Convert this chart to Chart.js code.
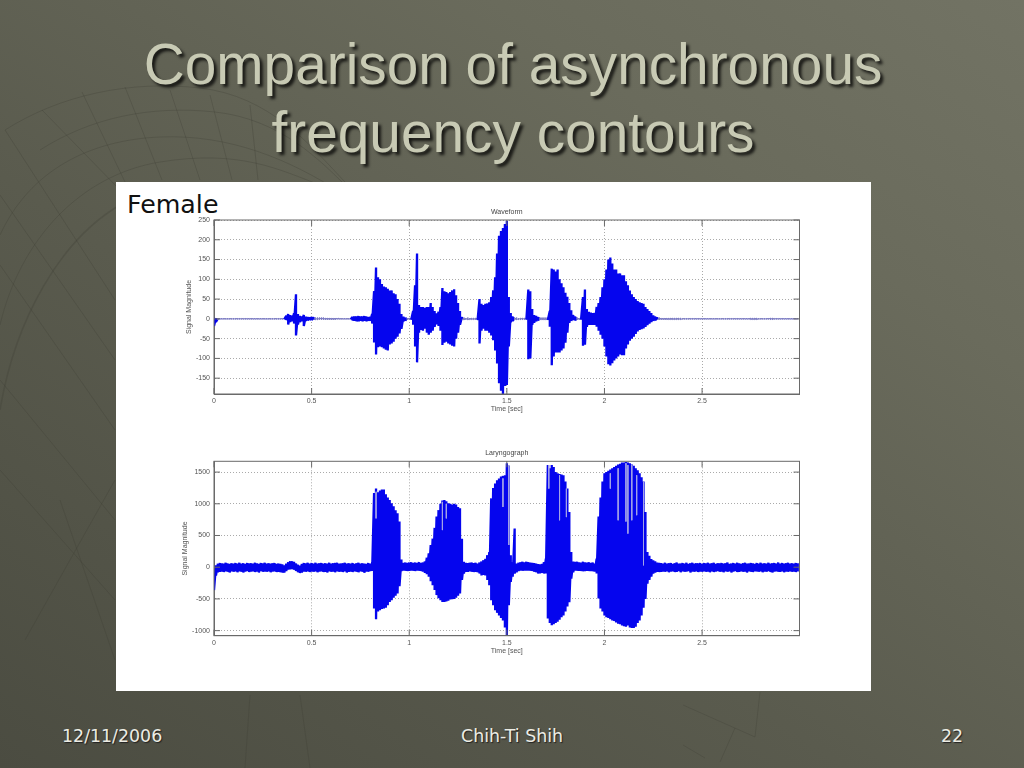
<!DOCTYPE html>
<html>
<head>
<meta charset="utf-8">
<title>Comparison of asynchronous frequency contours</title>
<script src="https://cdn.jsdelivr.net/npm/chart.js@4"></script>
<style>
html, body { margin: 0; padding: 0; }
body { width: 1024px; height: 768px; position: relative; overflow: hidden;
  background: linear-gradient(35deg, #4b4c41 0%, #5a5b4e 40%, #6a6b5c 75%, #727364 100%); }
#decor { position: absolute; left: 0; top: 0; }
h1 { position: absolute; left: 0; top: 30.5px; width: 1026px; margin: 0; text-align: center;
  font: normal 56.8px/68px "Liberation Sans", sans-serif; color: #c8cab4; text-shadow: 3px 3px 3px rgba(0,0,0,.75); }
#panel { position: absolute; left: 116px; top: 182px; width: 755px; height: 509px; background: #fff; }
#female { position: absolute; left: 127px; top: 190px; font: 25.3px "DejaVu Sans", sans-serif; color: #111; }
canvas { position: absolute; }
.foot { position: absolute; top: 726px; font: 17.4px "DejaVu Sans", sans-serif; color: #ecece4; text-shadow: 1px 1px 1px #222; }
</style>
</head>
<body>
<svg id="decor" width="1024" height="768" fill="none" stroke="#3f4035" stroke-opacity=".3" stroke-width="1">
  <path d="M5 130C60 95 130 80 200 88S310 145 345 182"/>
  <path d="M40 150C90 118 150 105 215 112S320 160 350 190"/>
  <path d="M0 235C30 170 90 140 160 137S290 160 340 192"/>
  <path d="M0 325C20 240 80 175 160 162S280 170 320 185"/>
  <path d="M0 410C15 320 60 240 120 205" stroke-width="1.5"/>
  <path d="M5 130L115 300M42 110L120 190M82 92L125 182M125 87L162 180M170 90L200 180M210 95L232 180M250 105L258 180"/>
  <path d="M0 195L115 360M0 265L115 430M0 380L115 520M0 470L115 600M25 640L115 480M60 500L115 660"/>
  <path d="M683 705L755 737L760 692M735 728L720 762M683 745L705 758M250 695L245 768M300 695L310 768"/>
</svg>
<h1>Comparison of asynchronous<br>frequency contours</h1>
<div id="panel"></div>
<div id="female">Female</div>
<canvas id="waveChart" width="650" height="215" style="left:170px;top:205px"></canvas>
<canvas id="larynxChart" width="650" height="215" style="left:170px;top:447px"></canvas>
<div class="foot" style="left:62px">12/11/2006</div>
<div class="foot" style="left:461px">Chih-Ti Shih</div>
<div class="foot" style="left:941px">22</div>
<script>
const sampleTimes = [
0.00,0.01,0.02,0.03,0.04,0.05,0.06,0.07,0.08,0.09,
0.10,0.11,0.12,0.13,0.14,0.15,0.16,0.17,0.18,0.19,
0.20,0.21,0.22,0.23,0.24,0.25,0.26,0.27,0.28,0.29,
0.30,0.31,0.32,0.33,0.34,0.35,0.36,0.37,0.38,0.39,
0.40,0.41,0.42,0.43,0.44,0.45,0.46,0.47,0.48,0.49,
0.50,0.51,0.52,0.53,0.54,0.55,0.56,0.57,0.58,0.59,
0.60,0.61,0.62,0.63,0.64,0.65,0.66,0.67,0.68,0.69,
0.70,0.71,0.72,0.73,0.74,0.75,0.76,0.77,0.78,0.79,
0.80,0.81,0.82,0.83,0.84,0.85,0.86,0.87,0.88,0.89,
0.90,0.91,0.92,0.93,0.94,0.95,0.96,0.97,0.98,0.99,
1.00,1.01,1.02,1.03,1.04,1.05,1.06,1.07,1.08,1.09,
1.10,1.11,1.12,1.13,1.14,1.15,1.16,1.17,1.18,1.19,
1.20,1.21,1.22,1.23,1.24,1.25,1.26,1.27,1.28,1.29,
1.30,1.31,1.32,1.33,1.34,1.35,1.36,1.37,1.38,1.39,
1.40,1.41,1.42,1.43,1.44,1.45,1.46,1.47,1.48,1.49,
1.50,1.51,1.52,1.53,1.54,1.55,1.56,1.57,1.58,1.59,
1.60,1.61,1.62,1.63,1.64,1.65,1.66,1.67,1.68,1.69,
1.70,1.71,1.72,1.73,1.74,1.75,1.76,1.77,1.78,1.79,
1.80,1.81,1.82,1.83,1.84,1.85,1.86,1.87,1.88,1.89,
1.90,1.91,1.92,1.93,1.94,1.95,1.96,1.97,1.98,1.99,
2.00,2.01,2.02,2.03,2.04,2.05,2.06,2.07,2.08,2.09,
2.10,2.11,2.12,2.13,2.14,2.15,2.16,2.17,2.18,2.19,
2.20,2.21,2.22,2.23,2.24,2.25,2.26,2.27,2.28,2.29,
2.30,2.31,2.32,2.33,2.34,2.35,2.36,2.37,2.38,2.39,
2.40,2.41,2.42,2.43,2.44,2.45,2.46,2.47,2.48,2.49,
2.50,2.51,2.52,2.53,2.54,2.55,2.56,2.57,2.58,2.59,
2.60,2.61,2.62,2.63,2.64,2.65,2.66,2.67,2.68,2.69,
2.70,2.71,2.72,2.73,2.74,2.75,2.76,2.77,2.78,2.79,
2.80,2.81,2.82,2.83,2.84,2.85,2.86,2.87,2.88,2.89,
2.90,2.91,2.92,2.93,2.94,2.95,2.96,2.97,2.98,2.99];

// waveform envelope, every 10 ms
const waveHigh = [
3,2,1,1,1,1,1,1,1,1,
1,1,1,1,1,1,1,1,1,1,
1,1,1,1,1,1,1,1,1,1,
1,1,1,1,1,1,1,8,12,10,
8,14,62,12,8,6,10,6,5,4,
4,4,3,3,3,3,3,2,2,2,
2,2,2,2,2,1,1,1,1,1,
1,5,6,6,7,6,6,7,6,5,
5,12,70,130,105,100,88,82,80,76,
72,72,65,62,50,38,12,6,3,2,
2,2,20,85,165,35,30,30,28,30,
30,40,30,20,14,18,30,78,70,68,
65,68,72,75,60,40,20,5,3,2,
3,2,2,2,2,3,50,38,35,38,
39,42,55,72,105,165,210,222,230,240,
248,55,15,6,3,3,2,2,2,2,
2,74,70,25,10,8,5,3,3,3,
3,3,20,127,125,120,125,100,90,80,
66,56,40,22,10,6,3,2,2,55,
74,25,18,16,15,15,30,40,55,80,
100,125,150,155,140,125,125,115,115,110,
110,95,85,72,62,55,50,45,42,40,
38,30,25,20,15,9,6,4,3,2,
2,2,2,2,2,2,2,2,2,2,
1,1,1,1,1,1,1,1,1,1,
1,1,1,1,1,1,1,1,1,1,
1,1,1,1,1,1,1,1,1,1,
1,1,1,1,1,2,2,2,2,1,
1,1,1,1,1,2,2,1,1,1,
1,1,1,1,1,1,1,1,1,1];
const waveLow = [
-18,-8,-2,-1,-1,-1,-1,-1,-1,-1,
-1,-1,-1,-1,-1,-1,-1,-1,-1,-1,
-1,-1,-1,-1,-1,-1,-1,-1,-1,-1,
-1,-1,-1,-1,-1,-1,-1,-3,-14,-8,
-6,-12,-42,-14,-8,-6,-18,-5,-4,-3,
-3,-3,-3,-3,-2,-2,-2,-2,-2,-2,
-2,-2,-2,-1,-1,-1,-1,-1,-1,-1,
-1,-4,-5,-6,-6,-5,-6,-5,-6,-5,
-5,-12,-60,-90,-72,-70,-72,-75,-78,-80,
-65,-62,-58,-50,-45,-37,-25,-6,-4,-2,
-2,-2,-15,-70,-110,-35,-28,-30,-25,-35,
-40,-35,-30,-20,-14,-18,-30,-66,-60,-58,
-62,-65,-68,-70,-50,-35,-15,-3,-3,-2,
-3,-2,-2,-2,-2,-3,-62,-30,-25,-30,
-30,-35,-42,-54,-80,-113,-163,-182,-190,-170,
-167,-70,-8,-5,-3,-3,-2,-2,-2,-2,
-2,-102,-100,-15,-10,-6,-4,-3,-3,-3,
-3,-3,-20,-117,-95,-85,-85,-85,-80,-75,
-60,-35,-10,-5,-3,-4,-2,-2,-2,-68,
-65,-20,-15,-15,-15,-15,-20,-30,-40,-50,
-70,-95,-115,-118,-112,-105,-100,-95,-90,-92,
-92,-75,-65,-55,-50,-45,-38,-32,-28,-26,
-24,-20,-16,-12,-8,-5,-4,-3,-2,-2,
-2,-2,-2,-2,-2,-2,-2,-2,-2,-2,
-1,-1,-1,-1,-1,-1,-1,-1,-1,-1,
-1,-1,-1,-1,-1,-1,-1,-1,-1,-1,
-1,-1,-1,-1,-1,-1,-1,-1,-1,-1,
-1,-1,-1,-1,-1,-2,-2,-2,-2,-1,
-1,-1,-1,-1,-1,-2,-2,-1,-1,-1,
-1,-1,-1,-1,-1,-1,-1,-1,-1,-1];

// laryngograph envelope
const larynxHigh = [
-180,30,55,68,62,58,70,60,55,64,
58,66,60,72,56,62,55,68,60,64,
58,70,62,55,66,60,72,58,64,56,
62,68,55,60,54,46,30,55,80,92,
95,85,60,40,25,50,65,62,70,58,
66,60,72,58,64,68,56,62,60,70,
58,64,66,72,56,60,62,70,58,64,
60,68,55,62,70,58,64,60,56,66,
60,65,1170,1240,1180,1210,1225,1225,1150,1100,
1060,1010,960,900,850,720,120,70,75,70,
75,80,70,75,70,80,70,75,90,150,
220,350,450,620,800,900,1000,1050,1060,1040,
1010,1000,990,1000,990,950,930,450,85,70,
65,70,75,65,70,60,75,90,110,130,
190,240,1085,1250,1320,1370,1400,1430,1440,1450,
1640,1600,190,80,610,60,70,80,85,80,
85,80,75,70,65,60,50,45,50,80,
135,1610,1560,1610,1580,1500,1480,1470,1460,1450,
1350,1240,870,240,90,85,85,80,75,85,
80,75,80,70,75,60,135,800,1100,1350,
1480,1500,1520,1540,1560,1580,1600,1620,1630,1650,
1650,1660,1650,1640,1620,1600,1560,1530,1480,1420,
1350,870,240,180,130,110,95,75,70,65,
60,72,58,64,68,56,62,75,60,58,
66,60,70,56,62,72,58,64,60,68,
56,66,60,72,58,62,70,56,64,60,
68,58,62,74,56,60,66,58,70,62,
56,64,72,60,58,68,62,56,66,60,
72,58,64,60,70,56,62,68,58,74,
60,66,56,62,70,58,64,60,68,62];
const larynxLow = [
-360,-130,-80,-72,-66,-75,-62,-70,-82,-64,
-72,-65,-78,-62,-70,-85,-66,-60,-74,-68,
-64,-76,-68,-82,-60,-72,-66,-70,-62,-80,
-68,-64,-74,-70,-78,-85,-85,-60,-35,-32,
-30,-40,-60,-80,-90,-82,-66,-70,-62,-75,
-68,-72,-64,-80,-66,-62,-74,-70,-84,-64,
-72,-66,-78,-62,-70,-68,-76,-64,-82,-70,
-66,-74,-62,-70,-78,-64,-72,-86,-66,-70,
-60,-60,-650,-820,-700,-680,-660,-650,-640,-600,
-550,-520,-480,-450,-415,-300,-60,-50,-55,-60,
-55,-50,-55,-60,-50,-55,-60,-70,-90,-110,
-150,-220,-285,-360,-440,-490,-520,-550,-550,-540,
-530,-510,-505,-500,-480,-450,-415,-200,-100,-70,
-70,-65,-70,-75,-70,-80,-100,-130,-120,-130,
-200,-285,-520,-600,-680,-720,-760,-800,-840,-950,
-1070,-600,-230,-150,-100,-80,-60,-50,-55,-50,
-50,-50,-55,-60,-70,-80,-100,-95,-90,-100,
-100,-810,-880,-915,-900,-880,-860,-830,-790,-760,
-700,-620,-550,-180,-80,-50,-55,-55,-60,-65,
-60,-55,-60,-60,-65,-70,-100,-495,-650,-700,
-760,-790,-800,-820,-840,-850,-870,-890,-900,-920,
-930,-940,-920,-950,-960,-960,-940,-880,-840,-760,
-640,-500,-260,-200,-150,-100,-85,-70,-75,-70,
-66,-72,-62,-80,-68,-64,-74,-70,-60,-78,
-64,-72,-68,-60,-84,-66,-70,-62,-76,-68,
-72,-62,-70,-66,-80,-64,-74,-68,-60,-72,
-66,-78,-62,-70,-64,-82,-68,-60,-74,-70,
-64,-72,-66,-84,-62,-70,-76,-64,-68,-72,
-62,-80,-66,-70,-60,-74,-84,-68,-64,-72,
-70,-62,-78,-66,-72,-64,-70,-68,-76,-66];

// light streaks where the laryngograph signal opens up
const larynxGapTimes = [0.83,1.17,1.19,1.48,1.51,1.715,1.77,1.805,2.03,2.07,2.11,2.12,2.14,2.165,2.2];
const larynxGapTop = [1190,1030,1000,1400,1610,1610,1450,1240,1480,1560,1640,1610,1610,1450,1350];
const larynxGapBottom = [770,585,770,950,350,1240,740,790,1240,740,720,530,740,820,30];

const timeTicks = [0,0.5,1,1.5,2,2.5];
const waveTicks = [-150,-100,-50,0,50,100,150,200,250];
const larynxTicks = [-1000,-500,0,500,1000,1500];

// each sample becomes a top-to-bottom stroke so the envelope fills in solid
function zigzag(times, high, low) {
	let points = [];
	times.forEach(function(t, i) {
		points.push({x: t, y: high[i]});
		points.push({x: t, y: low[i]});
	});
	return points;
}

function gapStrokes(times, top, bottom) {
	let points = [];
	times.forEach(function(t, i) {
		points.push({x: t, y: top[i]});
		points.push({x: t, y: bottom[i]});
		points.push({x: t, y: NaN});
	});
	return points;
}

// matlab style box with short ticks inside it
const framePlugin = {
	id: 'frame',
	afterDatasetsDraw(chart) {
		const a = chart.chartArea;
		const c = chart.ctx;
		c.save();
		c.strokeStyle = '#6a6a6a';
		c.lineWidth = 1;
		c.strokeRect(a.left, a.top, a.right - a.left, a.bottom - a.top);
		c.beginPath();
		chart.scales.y.ticks.forEach(function(tick) {
			const y = chart.scales.y.getPixelForValue(tick.value);
			c.moveTo(a.left, y); c.lineTo(a.left + 6, y);
			c.moveTo(a.right, y); c.lineTo(a.right - 6, y);
		});
		chart.scales.x.ticks.forEach(function(tick) {
			const x = chart.scales.x.getPixelForValue(tick.value);
			c.moveTo(x, a.bottom); c.lineTo(x, a.bottom - 6);
			c.moveTo(x, a.top); c.lineTo(x, a.top + 6);
		});
		c.stroke();
		c.restore();
	}
};

function makeChart(id, title, datasets, yTicks, yMin, yMax, leftPad, titleTop, bottomPad) {
	const smallFont = {family: '"Liberation Sans", sans-serif', size: 7, weight: 'normal'};
	return new Chart(document.getElementById(id).getContext('2d'), {
		type: 'line',
		data: {datasets: datasets},
		plugins: [framePlugin],
		options: {
			responsive: false,
			animation: false,
			devicePixelRatio: 1,
			layout: {padding: {left: leftPad, right: 20.5, top: 0, bottom: bottomPad}},
			plugins: {
				legend: {display: false},
				tooltip: {enabled: false},
				title: {
					display: true,
					text: title,
					color: '#444',
					fullSize: false,
					font: smallFont,
					padding: {top: titleTop, bottom: 3.6}
				}
			},
			scales: {
				x: {
					type: 'linear',
					min: 0,
					max: 2.999,
					afterBuildTicks: function(scale) { scale.ticks = timeTicks.map(v => ({value: v})); },
					afterFit: function(scale) { scale.height = 19.5; },
					grid: {color: '#aaa', drawTicks: false},
					border: {color: '#6a6a6a', dash: [1, 2]},
					ticks: {color: '#555', font: smallFont, padding: 3, maxRotation: 0, autoSkip: false, callback: v => String(v)},
					title: {display: true, text: 'Time [sec]', color: '#555', font: smallFont, padding: 0}
				},
				y: {
					min: yMin,
					max: yMax,
					afterBuildTicks: function(scale) { scale.ticks = yTicks.map(v => ({value: v})); },
					afterFit: function(scale) { scale.width = 44 - leftPad; },
					grid: {color: '#aaa', drawTicks: false},
					border: {color: '#6a6a6a', dash: [1, 2]},
					ticks: {color: '#555', font: smallFont, padding: 4, autoSkip: false, callback: v => String(v)},
					title: {display: true, text: 'Signal Magnitude', color: '#555', font: smallFont, padding: 0}
				}
			}
		}
	});
}

function blueTrace(points) {
	return {data: points, borderColor: '#0505ee', borderWidth: 2.3, borderJoinStyle: 'bevel', pointRadius: 0, tension: 0, parsing: false};
}

// the silent stretches of the waveform are a thin grey-blue line
function isSilent(ctx) {
	return Math.abs(ctx.p0.parsed.y) <= 3 && Math.abs(ctx.p1.parsed.y) <= 3;
}

makeChart('waveChart', 'Waveform',
	[Object.assign(blueTrace(zigzag(sampleTimes, waveHigh, waveLow)), {
		segment: {
			borderWidth: ctx => isSilent(ctx) ? 1 : undefined,
			borderColor: ctx => isSilent(ctx) ? '#7c7cc4' : undefined
		}
	})],
	waveTicks, -190, 250, 15, 3, 6.5);

makeChart('larynxChart', 'Laryngograph',
	[
		{data: gapStrokes(larynxGapTimes, larynxGapTop, larynxGapBottom), borderColor: '#a3a3e6', borderWidth: 1, pointRadius: 0, tension: 0, parsing: false, order: 0},
		Object.assign(blueTrace(zigzag(sampleTimes, larynxHigh, larynxLow)), {order: 1})
	],
	larynxTicks, -1080, 1670, 11, 2.3, 6.8);
</script>
</body>
</html>
